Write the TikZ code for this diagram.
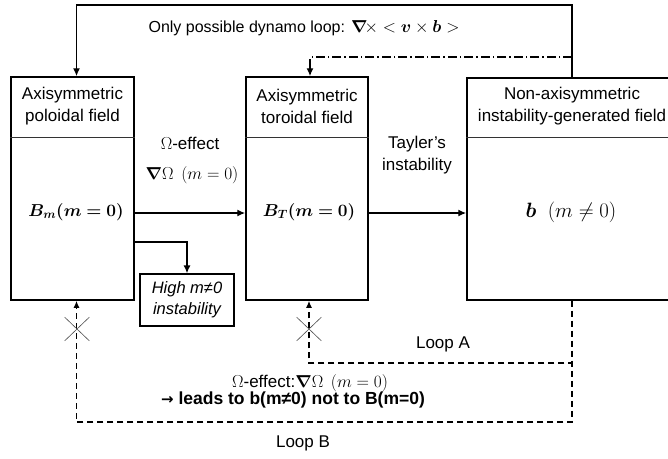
\documentclass[tikz,border=0pt]{standalone}
\usepackage{fontspec}
\setmainfont{Liberation Sans}
\newfontfamily\djv{DejaVu Sans}
\usepackage{amsmath,bm}
\usetikzlibrary{arrows.meta,shapes.misc}
\begin{document}
\begin{tikzpicture}[x=1pt,y=-1pt,
  box/.style={draw, line width=1.5pt, inner sep=0pt},
  divider/.style={line width=0.9pt, draw=black!80},
  lbl/.style={font=\fontsize{17}{22}\selectfont, align=center, inner sep=0pt},
  ttl/.style={font=\fontsize{16}{19}\selectfont, align=center, inner sep=0pt},
  mlbl/.style={font=\fontsize{17.5}{22}\selectfont, inner sep=0pt},
  hibox/.style={draw, line width=1.2pt, inner sep=0pt, minimum width=94pt, minimum height=52pt,
    align=center, font=\fontsize{16.5}{21}\selectfont\itshape},
  arr/.style={line width=1.4pt, -{Latex[length=8pt,width=7pt]}},
  dasharr/.style={line width=1.4pt, dash pattern=on 6pt off 4pt, -{Latex[length=7pt,width=6pt]}},
  dashdot/.style={line width=1.2pt, dash pattern=on 9pt off 3pt on 1.5pt off 3pt},
  xmark/.style={cross out, draw=black!70, line width=0.6pt, minimum width=24pt, minimum height=23pt, inner sep=0pt}
]
\useasboundingbox (0,0) rectangle (668,458);

% boxes
\node[box, minimum width=123pt, minimum height=223pt] (P) at (72.5,188.5) {};
\node[box, minimum width=122pt, minimum height=223pt] (T) at (307,188.5) {};
\node[box, minimum width=210pt, minimum height=222pt] (N) at (572,189) {};
\node[hibox] (H) at (187,300) {High m≠0\\instability};

% header dividers
\draw[divider] (P.west |- 0,137) -- (P.east |- 0,137);
\draw[divider] (T.west |- 0,137) -- (T.east |- 0,137);
\draw[divider] (N.west |- 0,137) -- (N.east |- 0,137);

% header labels
\node[lbl] (Ph) at (72.5,106) {Axisymmetric\\poloidal field};
\node[lbl] (Th) at (307,106) {Axisymmetric\\toroidal field};
\node[lbl] (Nh) at (572,106) {Non-axisymmetric\\instability-generated field};

% box contents
\node[mlbl] (Pm) at (76,212) {$\bm{B_m(m=0)}$};
\node[mlbl] (Tm) at (309,212) {$\bm{B_T(m=0)}$};
\node[mlbl, font=\fontsize{20.5}{24}\selectfont] (Nm) at (571,212) {$\bm{b}\ \ (m\neq 0)$};

% top loop
\node[ttl] (title) at (304,28) {Only possible dynamo loop: \fontsize{18}{20}\selectfont$\bm{\nabla}\!\times<\bm{v}\times\bm{b}>$};
\draw[arr] (N.north) -- (N.north |- 0,5) -| ([xshift=4pt]P.north);
\draw[dashdot] (N.north |- 0,57) -- ([xshift=5pt]T.north |- 0,57);
\draw[arr] ([xshift=3pt]T.north |- 0,59) -- ([xshift=3pt]T.north);

% Omega effect
\node[lbl] (om1) at (190,143) {$\Omega$-effect};
\node[lbl] (om2) at (192,175) {$\bm{\nabla}\Omega\ \,(m=0)$};
\draw[arr] (P.east |- 0,213) -- (T.west |- 0,213);

% Tayler
\node[lbl] (tay) at (417,155) {Tayler’s\\instability};
\draw[arr] (T.east |- 0,213) -- (N.west |- 0,213);

% high m
\draw[arr] (P.east |- 0,242) -| (H.north);

% Loop A
\draw[dasharr] (N.south) -- (N.south |- 0,363) -| ([xshift=2pt]T.south);
\node[lbl] (la) at (443,344) {Loop A};
\node[xmark] (xa) at (309,329) {};

% Loop B
\draw[dasharr] (N.south) -- (N.south |- 0,422) -| ([xshift=4pt]P.south);
\node[lbl] (lb) at (303,443) {Loop B};
\node[xmark] (xb) at (77,329) {};

\node[lbl] (om3) at (310,383) {$\Omega$-effect:$\bm{\nabla}\Omega\ \,(m=0)$};
\node[lbl, font=\fontsize{17.5}{20}\selectfont\bfseries] (lead) at (293,400) {{\djv\bfseries\fontsize{15}{18}\selectfont →} leads to b(m≠0) not to B(m=0)};
\end{tikzpicture}
\end{document}
